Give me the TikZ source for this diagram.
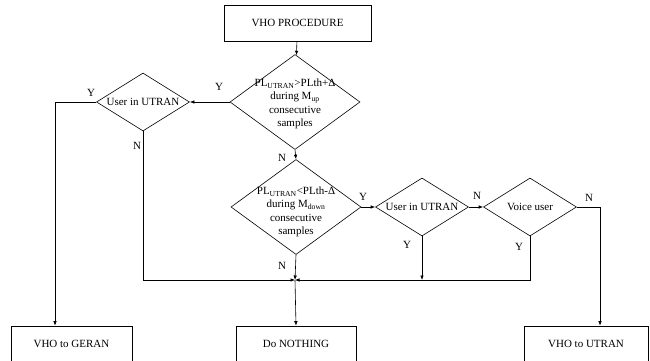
\documentclass[tikz,border=0pt]{standalone}
\usepackage{fontspec}
\setmainfont{Liberation Serif}
\usetikzlibrary{shapes.geometric,arrows.meta}
\tikzset{
  vho/.style={
    x=1pt, y=-1pt,
    every node/.style={font=\fontsize{11}{13.5}\selectfont},
    box/.style={draw, line width=0.6pt, inner sep=0pt, minimum height=36pt},
    test/.style={draw, shape=diamond, inner sep=0pt, line width=0.6pt},
    big test/.style={test, minimum width=130pt, minimum height=95pt},
    small test/.style={test, minimum width=93pt, minimum height=58pt},
    txt/.style={align=center, inner sep=0pt},
    tag/.style={inner sep=0pt},
    flow/.style={-{Latex[length=4.5pt,width=3.5pt]}, line width=0.6pt},
  }
}

\begin{document}
\begin{tikzpicture}[vho]
        \useasboundingbox (0,0) rectangle (650,361);
        \clip (0,0) rectangle (650,361);

        \node[box, minimum width=147pt] (proc) at (297.5,23) {VHO PROCEDURE};

        \node[big test] (up) at (295,102) {};
        \node[txt] (uptxt) at (295,104) {PL\textsubscript{UTRAN}>PLth+Δ\\during M\textsubscript{up}\\consecutive\\samples};

        \node[small test] (inutran1) at (143,102) {};
        \node[txt] (inutran1txt) at (inutran1) {User in UTRAN};

        \node[big test] (down) at (296,207) {};
        \node[txt] (downtxt) at (296,212) {PL\textsubscript{UTRAN}<PLth-Δ\\during M\textsubscript{down}\\consecutive\\samples};

        \node[small test] (inutran2) at (422,207) {};
        \node[txt] (inutran2txt) at (inutran2) {User in UTRAN};

        \node[small test] (voice) at (530,207) {};
        \node[txt] (voicetxt) at (voice) {Voice user};

        \node[box, minimum width=121pt] (geran) at (71.5,344) {VHO to GERAN};
        \node[box, minimum width=120pt] (nothing) at (296,344) {Do NOTHING};
        \node[box, minimum width=124pt] (utran) at (586,344) {VHO to UTRAN};

        \coordinate (join) at (295,280);
        \coordinate (geranturn) at (55,102);
        \coordinate (leftturn) at (143,280);
        \coordinate (inutran2end) at (422,280);
        \coordinate (voiceturn) at (530,280);
        \coordinate (utranturn) at (600,207);

        \draw[flow] (proc) -- (up);
        \draw[flow] (up.west) -- (inutran1.east);
        \draw[flow] (inutran1.west) -- (geranturn) -- (geranturn |- geran.north);
        \draw[flow] (inutran1.south) -- (leftturn) -- (join);
        \draw[flow] (up.south) -- (down.north);
        \draw[flow] (down.south) -- (join);
        \draw[flow] (join) -- (nothing.north);
        \draw[flow] (down.east) -- (inutran2.west);
        \draw[flow] (inutran2.east) -- (voice.west);
        \draw[flow] (voice.east) -- (utranturn) -- (utranturn |- utran.north);
        \draw[flow] (inutran2.south) -- (inutran2end);
        \draw[flow] (voice.south) -- (voiceturn) -- (join);

        \node[tag] (y1) at (219,87) {Y};
        \node[tag] (y2) at (91,93) {Y};
        \node[tag] (n1) at (137,146) {N};
        \node[tag] (n2) at (282,158) {N};
        \node[tag] (n3) at (282,266) {N};
        \node[tag] (y3) at (363,197) {Y};
        \node[tag] (n4) at (477,196) {N};
        \node[tag] (n5) at (589,198) {N};
        \node[tag] (y4) at (407,245) {Y};
        \node[tag] (y5) at (519,247) {Y};
\end{tikzpicture}
\end{document}
